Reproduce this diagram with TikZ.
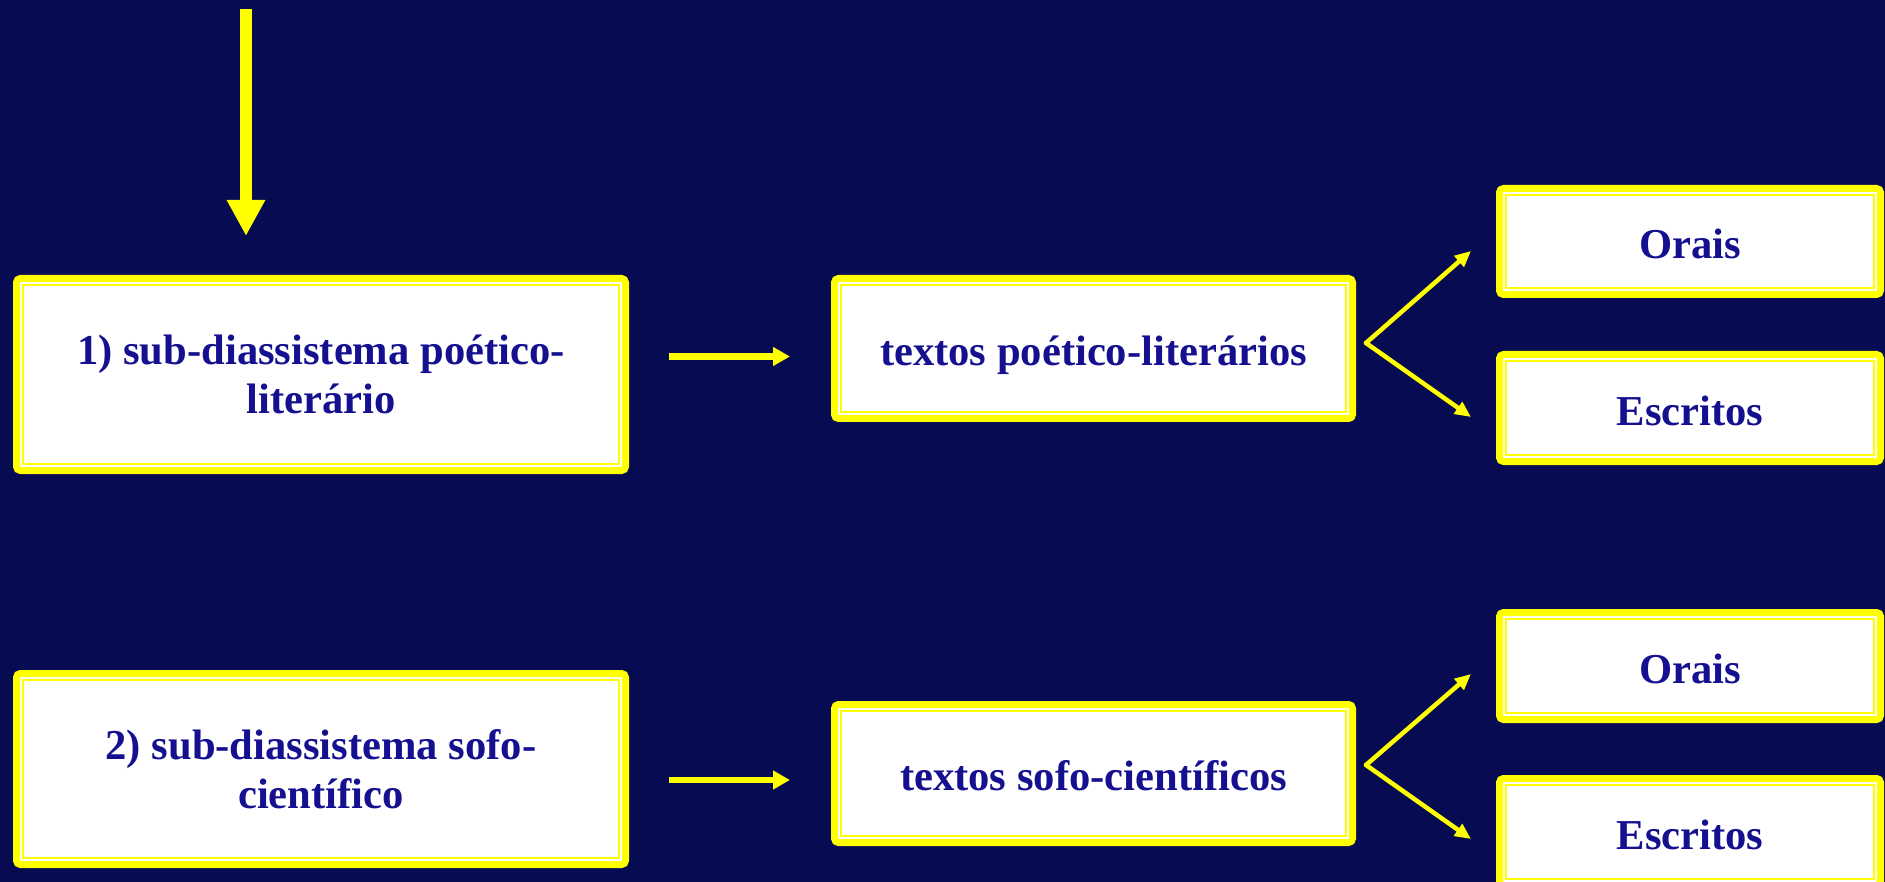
\documentclass[tikz,border=0pt]{standalone}
\usepackage{fontspec}
\setmainfont{Liberation Serif}
\usetikzlibrary{arrows.meta}
\definecolor{bg}{HTML}{060B52}
\definecolor{ink}{HTML}{15108F}
\definecolor{gold}{HTML}{FFFF00}

\begin{document}
\begin{tikzpicture}[x=1pt,y=-1pt,
  panel/.style={draw=gold, line width=7pt, fill=white, rounded corners=4pt,
    inner sep=0pt, align=center, text=ink,
    font=\fontsize{42.6}{49}\selectfont\bfseries,
    path picture={\draw[gold, line width=1.8pt, sharp corners]
      ([shift={(6.7pt,6.7pt)}]path picture bounding box.south west) rectangle
      ([shift={(-6.7pt,-6.7pt)}]path picture bounding box.north east);}},
  oneline/.style={text height=34pt, text depth=0pt},
  bigarrow/.style={draw=gold, line width=12pt, -{Triangle[length=36pt,width=36pt]}},
  midarrow/.style={draw=gold, line width=6.7pt, -{Triangle[length=17pt,width=18pt]}},
  fork/.style={draw=gold, line width=4.5pt, line cap=round, -{Triangle[length=16pt,width=14pt]}}
]
\useasboundingbox (0,0) rectangle (1885,882);
\fill[bg] (0,0) rectangle (1885,882);

% left column
\node[panel, minimum width=609pt, minimum height=192pt] (sub1) at (321,374.5)
  {1) sub-diassistema poético-\\literário};
\node[panel, minimum width=609pt, minimum height=191pt] (sub2) at (321,769)
  {2) sub-diassistema sofo-\\científico};

% middle column
\node[panel, oneline, minimum width=518pt, minimum height=140pt] (txt1) at (1093.5,348.5)
  {textos poético-literários};
\node[panel, oneline, minimum width=518pt, minimum height=138pt] (txt2) at (1093.5,773.5)
  {textos sofo-científicos};

% right column
\node[panel, oneline, minimum width=381pt, minimum height=106pt] (or1) at (1690,241.5) {Orais};
\node[panel, oneline, minimum width=381pt, minimum height=107pt] (es1) at (1690,408) {Escritos};
\node[panel, oneline, minimum width=381pt, minimum height=107pt] (or2) at (1690,666) {Orais};
\node[panel, oneline, minimum width=381pt, minimum height=107pt] (es2) at (1690,832) {Escritos};

% incoming arrow
\coordinate (top) at (246,9);
\coordinate (topend) at (246,236);
\draw[bigarrow] (top) -- (topend);

% horizontal arrows
\coordinate (h1s) at (669,356.5);
\coordinate (h1e) at (790,356.5);
\coordinate (h2s) at (669,780);
\coordinate (h2e) at (790,780);
\draw[midarrow] (h1s) -- (h1e);
\draw[midarrow] (h2s) -- (h2e);

% forks
\coordinate (f1) at (1366,343);
\coordinate (f2) at (1366,765);
\coordinate (f1a) at (1471,251);
\coordinate (f1b) at (1471,417);
\coordinate (f2a) at (1471,674);
\coordinate (f2b) at (1471,839);
\draw[fork] (f1) -- (f1a);
\draw[fork] (f1) -- (f1b);
\draw[fork] (f2) -- (f2a);
\draw[fork] (f2) -- (f2b);
\end{tikzpicture}
\end{document}
